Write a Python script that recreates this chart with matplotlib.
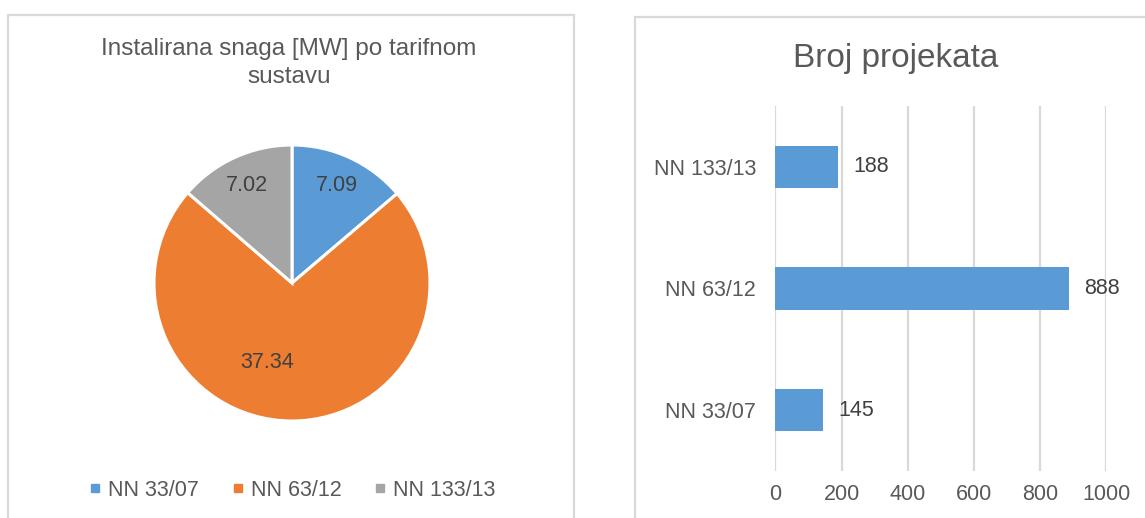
import numpy as np
import matplotlib
matplotlib.use("Agg")
import matplotlib.pyplot as plt
from matplotlib.patches import Rectangle
from matplotlib.lines import Line2D

plt.rcParams["font.family"] = ["Liberation Sans", "DejaVu Sans"]

# data
pie_labels = ["NN 33/07", "NN 63/12", "NN 133/13"]
pie_values = [7.09, 37.34, 7.02]
bar_labels = ["NN 33/07", "NN 63/12", "NN 133/13"]
bar_values = [145, 888, 188]
x_ticks = [0, 200, 400, 600, 800, 1000]

BLUE = "#5B9BD5"
ORANGE = "#ED7D31"
GRAY = "#A5A5A5"
TXT = "#595959"
DARK = "#404040"
GRID = "#D9D9D9"

W, H = 1145, 518
fig = plt.figure(figsize=(W / 100, H / 100), dpi=100)


def rect(x0, y0, x1, y1):
    # pixel box (top-left origin) -> figure fraction [l, b, w, h]
    return [x0 / W, 1 - y1 / H, (x1 - x0) / W, (y1 - y0) / H]


def fx(x):
    return x / W


def fy(y):
    return 1 - y / H


# panel borders
for x0, y0, x1, y1 in [(8, 15, 574, 530), (635, 17, 1160, 530)]:
    fig.add_artist(Rectangle((fx(x0), fy(y1)), fx(x1) - fx(x0), fy(y0) - fy(y1),
                             transform=fig.transFigure, fill=False,
                             edgecolor=GRID, linewidth=1.6))

# ---- pie ----
cx, cy, r = 292, 283, 138
ax_pie = fig.add_axes(rect(cx - r, cy - r, cx + r, cy + r))
wedges, _ = ax_pie.pie(pie_values, colors=[BLUE, ORANGE, GRAY], startangle=90,
                       counterclock=False, radius=1,
                       wedgeprops={"edgecolor": "white", "linewidth": 2.2})
ax_pie.set_xlim(-1, 1)
ax_pie.set_ylim(-1, 1)
ax_pie.set_aspect("equal")
ax_pie.axis("off")

label_r = [0.78, 0.60, 0.78]
label_shift = [0, -17, 0]
for w, v, lr, sh in zip(wedges, pie_values, label_r, label_shift):
    ang = np.deg2rad((w.theta1 + w.theta2) / 2 + sh)
    ax_pie.text(lr * np.cos(ang), lr * np.sin(ang), f"{v:.2f}", ha="center",
                va="center", fontsize=15.5, color=DARK)

fig.text(fx(289), fy(63), "Instalirana snaga [MW] po tarifnom\nsustavu",
         ha="center", va="center", fontsize=17.5, color=TXT, linespacing=1.3)

handles = [Line2D([], [], marker="s", linestyle="none", markersize=6,
                  markerfacecolor=c, markeredgecolor=c) for c in [BLUE, ORANGE, GRAY]]
fig.legend(handles, pie_labels, loc="center", bbox_to_anchor=(fx(292), fy(490)),
           ncol=3, frameon=False, fontsize=15.5, labelcolor=TXT,
           handlelength=0.6, handletextpad=0.3, columnspacing=1.5)

# ---- bar ----
ax_bar = fig.add_axes(rect(775.5, 106, 1106, 471))
y = np.arange(len(bar_values))
bars = ax_bar.barh(y, bar_values, height=0.35, color=BLUE)
ax_bar.set_xlim(0, 1000)
ax_bar.set_ylim(-0.5, len(bar_values) - 0.5)
ax_bar.set_yticks(y)
ax_bar.set_yticklabels(bar_labels)
ax_bar.set_xticks(x_ticks)
ax_bar.tick_params(axis="both", length=0, labelsize=15.5, labelcolor=TXT)
ax_bar.tick_params(axis="y", pad=14)
ax_bar.tick_params(axis="x", pad=9)
for s in ax_bar.spines.values():
    s.set_visible(False)
ax_bar.grid(axis="x", color=GRID, linewidth=1.6)
ax_bar.set_axisbelow(True)
ax_bar.bar_label(bars, labels=[str(v) for v in bar_values], padding=11,
                 fontsize=15.5, color=DARK)

fig.text(fx(896), fy(58), "Broj projekata", ha="center", va="center",
         fontsize=24, color=TXT)

fig.savefig("out.png", dpi=100)
